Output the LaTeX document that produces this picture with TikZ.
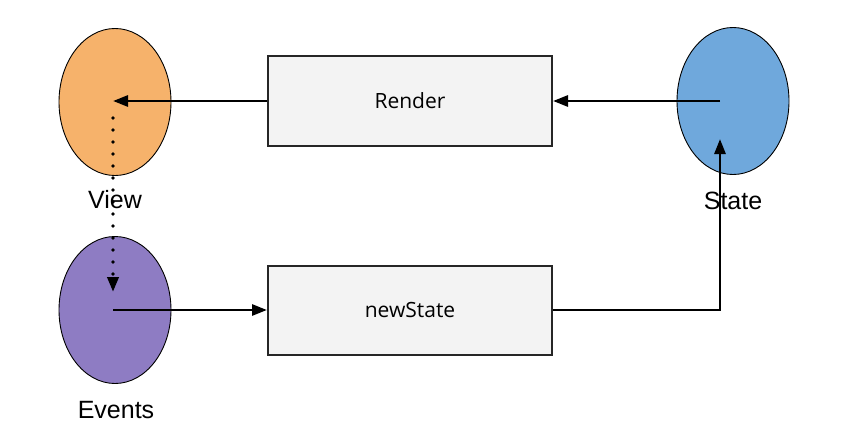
\documentclass[tikz,border=0pt]{standalone}
\usepackage{fontspec}
\setmainfont{Liberation Sans}
\newfontfamily\boxfont{Open Sans}
\usetikzlibrary{arrows.meta,shapes.geometric}
\definecolor{vieworange}{HTML}{F6B26B}
\definecolor{eventpurple}{HTML}{8E7CC3}
\definecolor{stateblue}{HTML}{6FA8DC}
\definecolor{boxgray}{HTML}{F3F3F3}
\tikzset{
  blob/.style={ellipse, draw=black, line width=0.9pt, minimum width=112pt, minimum height=147pt, inner sep=0pt},
  procbox/.style={rectangle, draw=black!85, line width=2pt, fill=boxgray, minimum width=284pt, minimum height=89pt, font=\boxfont\fontsize{21}{24}\selectfont},
  lbl/.style={font=\fontsize{25}{28}\selectfont, inner sep=0pt},
  conn/.style={line width=2.8pt, -{Triangle[length=15pt,width=11pt]}},
  dotconn/.style={line width=3.6pt, line cap=round, dash pattern=on 0pt off 12pt, -{Triangle[length=15pt,width=11pt]}}
}
\begin{document}
\begin{tikzpicture}[x=1pt,y=-1pt]
\path[use as bounding box, fill=white] (0,0) rectangle (845,436);
% ellipses
\node[blob, fill=vieworange] (view) at (115,102) {};
\node[blob, fill=eventpurple] (events) at (115,310) {};
\node[blob, fill=stateblue] (state) at (733,101) {};
% boxes
\node[procbox] (render) at (410,101) {Render};
\node[procbox] (newstate) at (410,310) {newState};
% anchor coordinates
\coordinate (viewc) at (113,101);
\coordinate (viewdot) at (113,118);
\coordinate (eventsin) at (113,292);
\coordinate (eventsc) at (113,310);
\coordinate (statec) at (720,101);
\coordinate (statein) at (720,139);
\coordinate (corner) at (720,310);
% dotted connector
\draw[dotconn] (viewdot) -- (eventsin);
% labels
\node[lbl] (viewlbl) at (115,200) {View};
\node[lbl] (eventslbl) at (116,410) {Events};
% connectors
\draw[conn] (render.west) -- (viewc);
\draw[conn] (statec) -- (render.east);
\draw[conn] (eventsc) -- (newstate.west);
\draw[conn] (newstate.east) -- (corner) -- (statein);
\node[lbl] (statelbl) at (733,201) {State};
\end{tikzpicture}
\end{document}
